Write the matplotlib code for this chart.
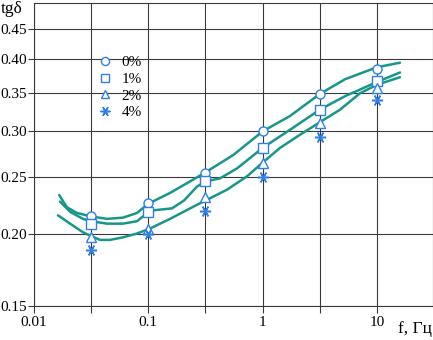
import matplotlib
matplotlib.use('Agg')
import matplotlib.pyplot as plt
from matplotlib.ticker import FixedLocator, NullLocator, FixedFormatter

plt.rcParams['font.family'] = ['Liberation Serif', 'DejaVu Serif']

# Measured points (frequency, Hz) and loss tangent for each content
freq = [0.0316, 0.1, 0.316, 1, 3.16, 10]
tg_0 = [0.214, 0.226, 0.254, 0.300, 0.348, 0.385]
tg_1 = [0.208, 0.218, 0.246, 0.281, 0.326, 0.366]
tg_2 = [0.197, 0.204, 0.231, 0.265, 0.310, 0.357]
tg_4 = [0.187, 0.200, 0.219, 0.250, 0.293, 0.340]
labels = ['0%', '1%', '2%', '4%']

# Approximating curves
fit0_x = [0.0166, 0.0194, 0.0238, 0.0316, 0.0435, 0.060, 0.0796, 0.0993, 0.155,
          0.232, 0.316, 0.551, 1.0, 1.74, 3.16, 5.26, 10, 15.9]
fit0_y = [0.233, 0.222, 0.217, 0.214, 0.212, 0.213, 0.217, 0.225, 0.235,
          0.246, 0.255, 0.273, 0.300, 0.319, 0.348, 0.369, 0.387, 0.394]
fit1_x = [0.0169, 0.0207, 0.0268, 0.0316, 0.0435, 0.060, 0.0796, 0.1035, 0.161,
          0.205, 0.267, 0.316, 0.424, 0.597, 1.0, 1.74, 3.16, 5.26, 10, 15.9]
fit1_y = [0.227, 0.218, 0.212, 0.210, 0.208, 0.208, 0.210, 0.219, 0.221,
          0.228, 0.241, 0.246, 0.249, 0.259, 0.281, 0.302, 0.327, 0.345, 0.365, 0.379]
fit2_x = [0.0162, 0.0207, 0.0268, 0.0316, 0.0378, 0.0462, 0.060, 0.0796, 0.1035,
          0.155, 0.232, 0.316, 0.488, 0.730, 1.0, 1.42, 2.12, 3.16, 4.75, 7.11, 10, 15.9]
fit2_y = [0.215, 0.208, 0.201, 0.198, 0.195, 0.195, 0.197, 0.200, 0.204,
          0.212, 0.221, 0.228, 0.238, 0.251, 0.265, 0.281, 0.296, 0.311, 0.327, 0.349, 0.361, 0.372]

x_ticks = [0.01, 0.0316, 0.1, 0.316, 1, 3.16, 10]
x_ticklabels = ['0.01', '', '0.1', '', '1', '', '10']
y_ticks = [0.15, 0.20, 0.25, 0.30, 0.35, 0.40, 0.45]
y_ticklabels = ['0.15', '0.20', '0.25', '0.30', '0.35', '0.40', '0.45']

TEAL = '#17968a'
BLUE = '#2f7fe6'
GRID = '#3a3a3a'

fig = plt.figure(figsize=(4.33, 3.40), dpi=100)
ax = fig.add_axes([34 / 433, 34 / 340, 398.5 / 433, 303 / 340])
ax.set_xscale('log')
ax.set_yscale('log')
ax.set_xlim(0.01, 30.6)
ax.set_ylim(0.15, 0.4994)

for fx, fy in [(fit0_x, fit0_y), (fit1_x, fit1_y), (fit2_x, fit2_y)]:
    ax.plot(fx, fy, color=TEAL, lw=1.8, solid_capstyle='round',
            solid_joinstyle='round', zorder=3)

markers = ['o', 's', '^', (6, 2, 90)]
for vals, m, lab in zip([tg_0, tg_1, tg_2, tg_4], markers, labels):
    if isinstance(m, tuple):
        ax.plot(freq, vals, linestyle='none', marker=m, ms=8, mew=1.1,
                color=BLUE, label=lab, zorder=4)
    else:
        ax.plot(freq, vals, linestyle='none', marker=m, ms=6.5, mew=1.0,
                mec=BLUE, mfc='white', label=lab, zorder=4)

ax.xaxis.set_major_locator(FixedLocator(x_ticks))
ax.xaxis.set_major_formatter(FixedFormatter(x_ticklabels))
ax.xaxis.set_minor_locator(NullLocator())
ax.yaxis.set_major_locator(FixedLocator(y_ticks))
ax.yaxis.set_major_formatter(FixedFormatter(y_ticklabels))
ax.yaxis.set_minor_locator(NullLocator())

ax.grid(True, color=GRID, lw=0.8)
ax.tick_params(axis='both', direction='out', length=4, width=0.8, color=GRID,
               labelsize=11, pad=1)
ax.tick_params(axis='x', length=5, pad=2)
for s in ax.spines.values():
    s.set_color(GRID)
    s.set_linewidth(0.8)

leg = ax.legend(loc='upper left', bbox_to_anchor=(0.135, 0.862), frameon=False,
                fontsize=11, handlelength=0.9, handletextpad=0.6,
                labelspacing=0.2, borderpad=0.2, markerscale=0.9)

fig.text(1 / 433, 1 - 1 / 340, 'tgδ', ha='left', va='top', fontsize=12.5)
fig.text(432 / 433, 1 - 333 / 340, 'f, Гц', ha='right', va='baseline', fontsize=12.5)

fig.savefig('out.png', dpi=100)
